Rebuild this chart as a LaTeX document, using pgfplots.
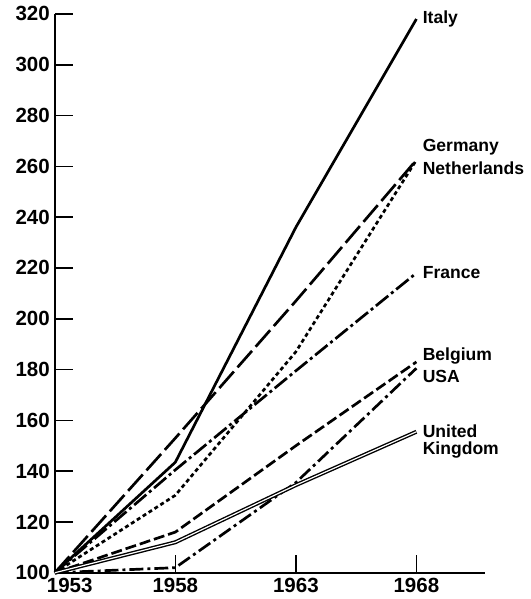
\documentclass[border=0pt]{standalone}
\usepackage{fontspec}
\setmainfont{Liberation Sans}
\usepackage{pgfplots}
\pgfplotsset{compat=1.18}

\newcommand{\lab}{\fontsize{8.8}{10}\selectfont\bfseries}

\begin{document}
\begin{tikzpicture}
\begin{axis}[
    scale only axis,
    width=216pt,
    height=280.5pt,
    xmin=1953, xmax=1970.85,
    ymin=100, ymax=320,
    axis x line*=bottom,
    axis y line*=left,
    axis line style={line width=1pt},
    tick align=inside,
    major tick length=9pt,
    tick style={line width=0.8pt, black},
    xtick={1953,1958,1963,1968},
    xticklabels={\hspace{15pt}1953,1958,1963,1968},
    ytick={100,120,...,320},
    ticklabel style={font=\fontsize{10.3}{12}\selectfont\bfseries},
    /pgf/number format/assume math mode=true,
    yticklabel style={xshift=1pt},
    xticklabel style={yshift=1pt},
    clip=false,
    every axis plot/.append style={black, line width=1.35pt, mark=none},
]

% Italy
\addplot[solid] coordinates {(1953,100) (1958,143.5) (1963,236) (1968,318)};
% Germany
\addplot[dash pattern=on 11pt off 2.8pt] coordinates {(1953,100) (1958,153) (1963,207) (1968,262.5)};
% Netherlands
\addplot[dash pattern=on 2pt off 1.5pt] coordinates {(1953,100) (1958,130.5) (1963,187) (1968,262.5)};
% France
\addplot[dash pattern=on 8pt off 1.8pt on 1.5pt off 1.8pt] coordinates {(1953,100) (1958,140.5) (1963,179.5) (1968,218)};
% Belgium
\addplot[dash pattern=on 5.5pt off 2pt] coordinates {(1953,100) (1958,116) (1963,150) (1968,183)};
% USA
\addplot[dash pattern=on 7pt off 2pt on 1.5pt off 2pt] coordinates {(1953,100) (1958,102) (1963,135.5) (1968,180.5)};
% United Kingdom
\addplot[line width=0.7pt, double=white, double distance=0.6pt] coordinates {(1953,100) (1958,112) (1963,134.5) (1968,155.5)};

\node[anchor=west, inner sep=0pt, font=\lab] at (axis cs:1968.25,318) {Italy};
\node[anchor=west, inner sep=0pt, font=\lab] at (axis cs:1968.25,267.5) {Germany};
\node[anchor=west, inner sep=0pt, font=\lab] at (axis cs:1968.25,259.3) {Netherlands};
\node[anchor=west, inner sep=0pt, font=\lab] at (axis cs:1968.25,218) {France};
\node[anchor=west, inner sep=0pt, font=\lab] at (axis cs:1968.25,185.3) {Belgium};
\node[anchor=west, inner sep=0pt, font=\lab] at (axis cs:1968.25,177.4) {USA};
\node[anchor=west, inner sep=0pt, font=\lab] at (axis cs:1968.25,155.8) {United};
\node[anchor=west, inner sep=0pt, font=\lab] at (axis cs:1968.25,148.3) {Kingdom};

% page margins as in the reference
\path (axis cs:1953,100) ++(-27.5pt,-13pt);
\path (axis cs:1953,100) ++(239pt,286.5pt);

\end{axis}
\end{tikzpicture}
\end{document}
